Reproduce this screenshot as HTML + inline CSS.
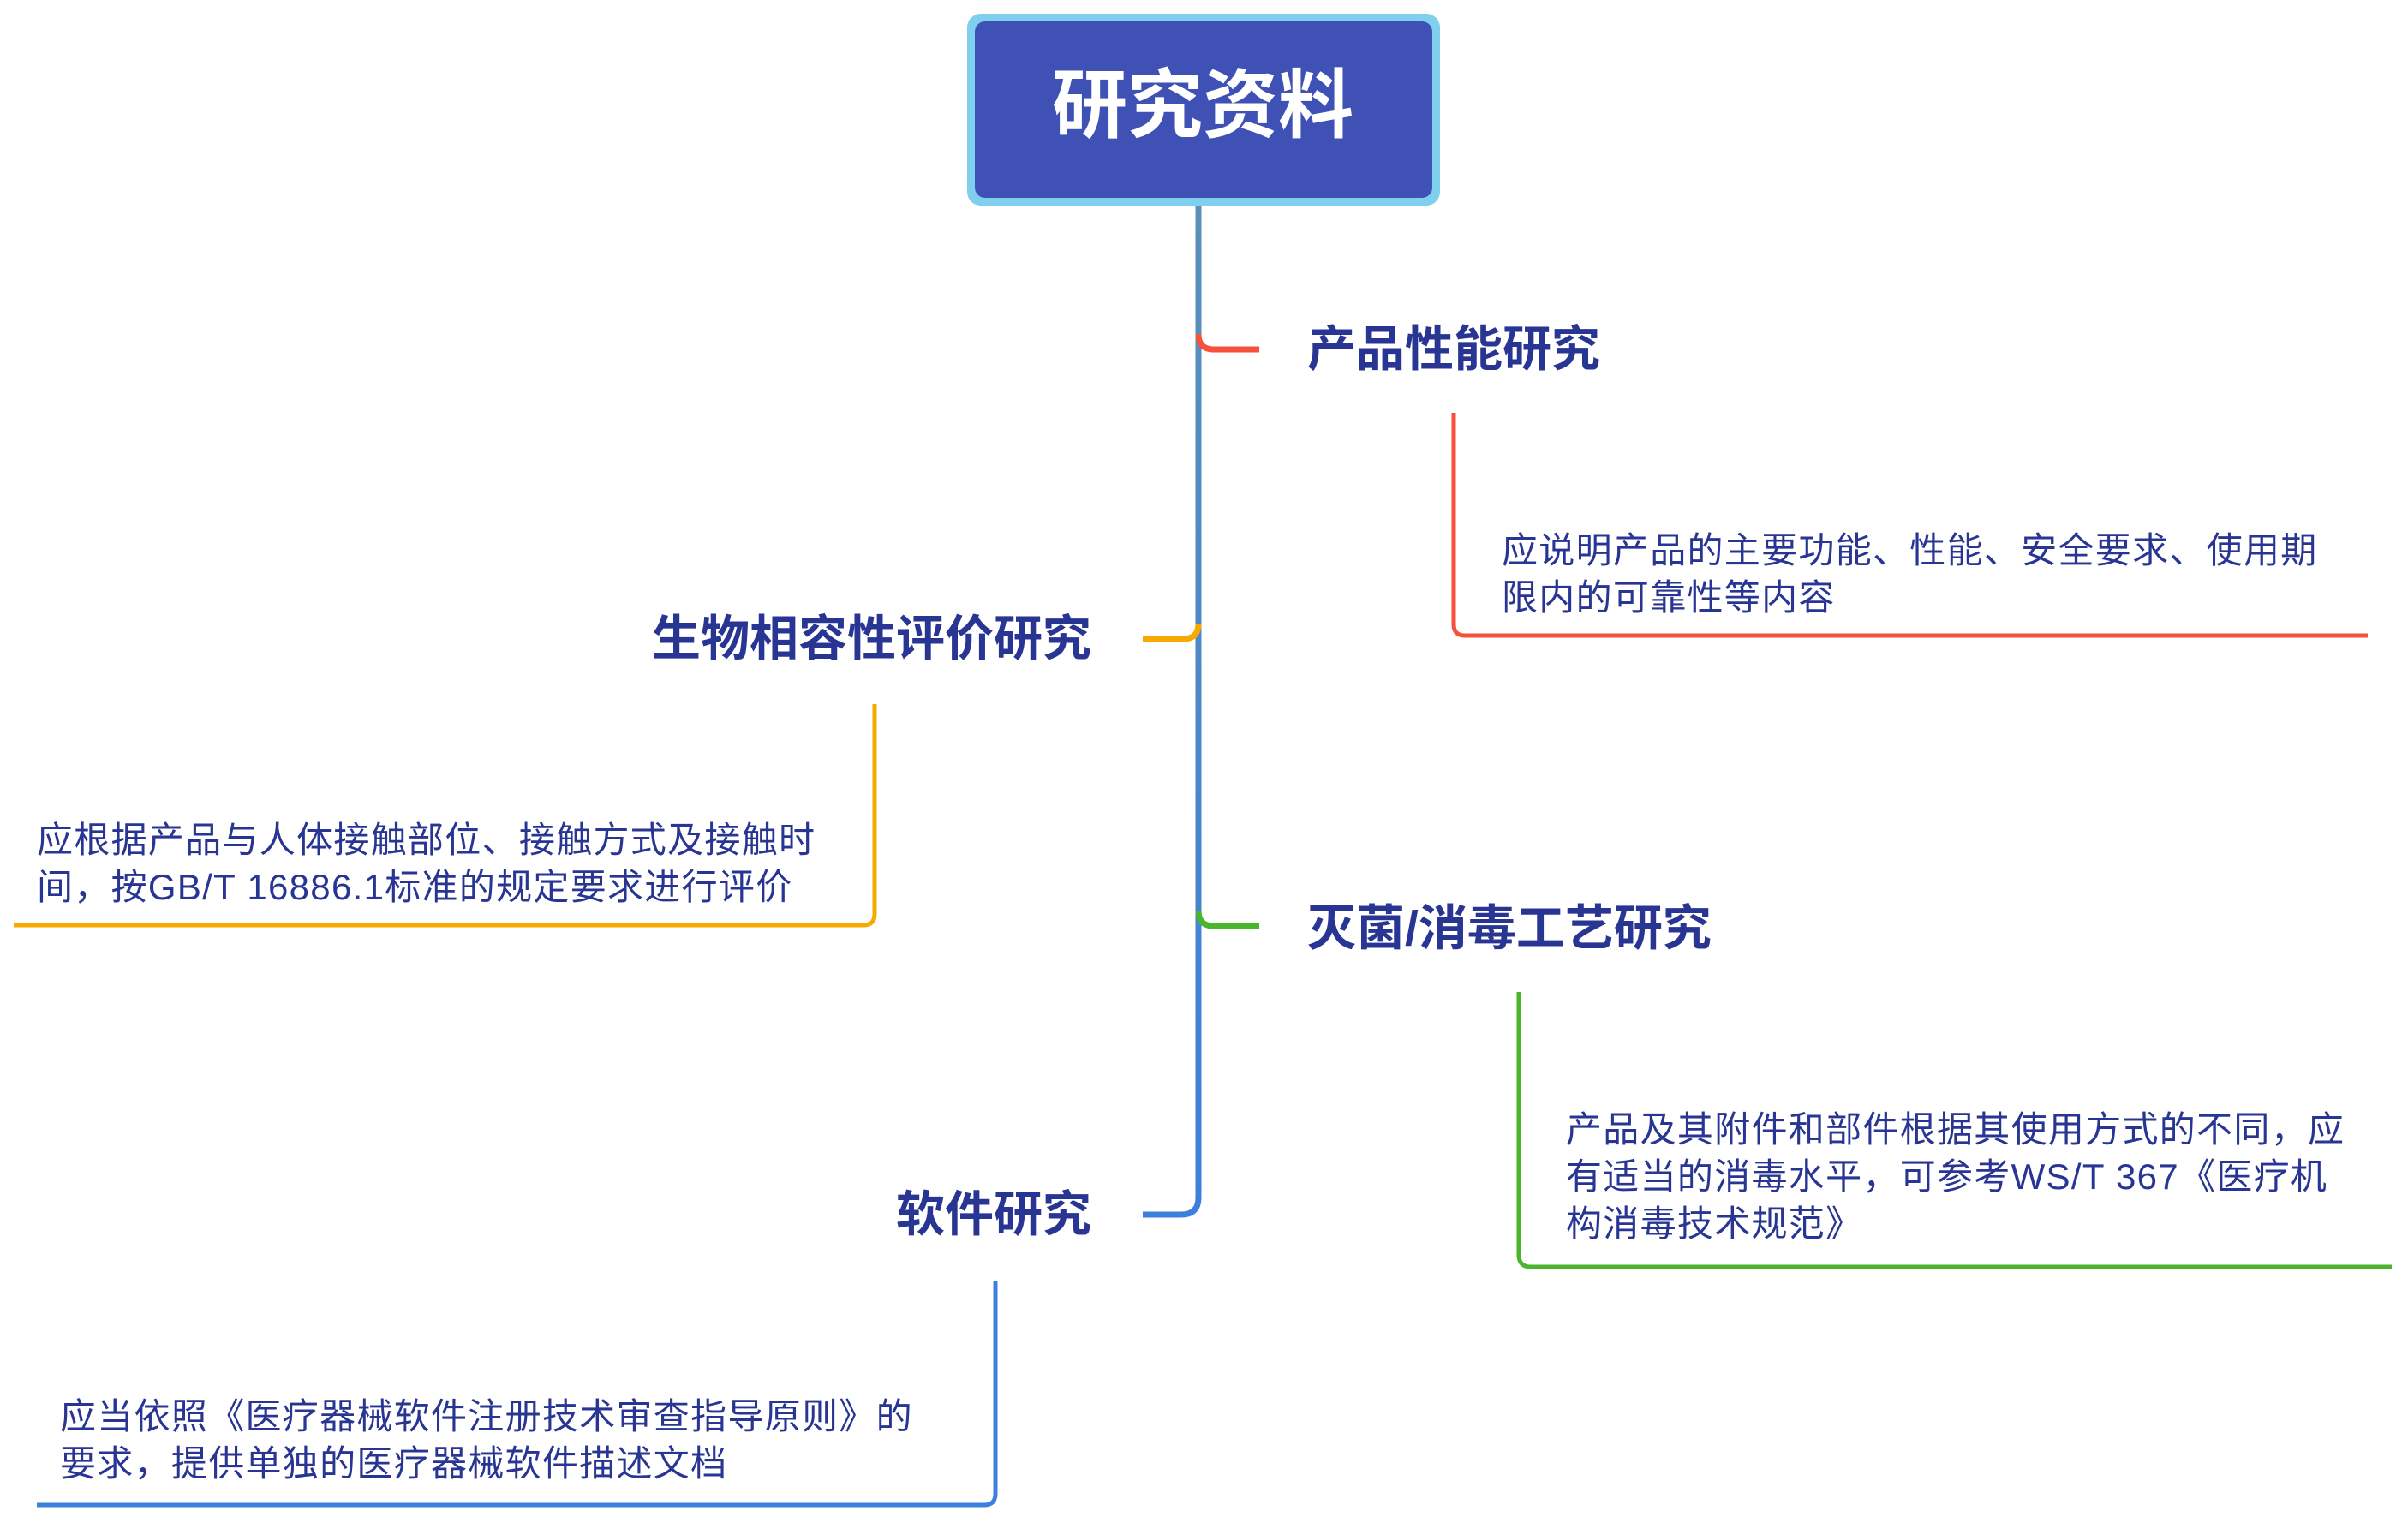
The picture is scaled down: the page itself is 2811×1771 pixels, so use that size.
<!DOCTYPE html>
<html><head><meta charset="utf-8"><style>
html,body{margin:0;padding:0;background:#fff;}
svg{display:block;}
text{font-family:"Liberation Sans","Noto Sans CJK SC",sans-serif;}
.s{letter-spacing:1.3px;}
</style></head><body>
<svg width="2811" height="1771" viewBox="0 0 2811 1771" xmlns="http://www.w3.org/2000/svg">
<defs>
<linearGradient id="trunk" x1="0" y1="0" x2="0" y2="1">
<stop offset="0" stop-color="#5a90b8"/><stop offset="1" stop-color="#3d7fdc"/>
</linearGradient>
</defs>
<g transform="translate(-6,0)">
<path d="M1405 236 L1405 1398 Q1405 1418 1385 1418 L1340 1418" fill="none" stroke="url(#trunk)" stroke-width="7"/>
<rect x="1135" y="16" width="552" height="224" rx="16" fill="#7fcfee"/>
<rect x="1144" y="25" width="534" height="206" rx="12" fill="#3f51b5"/>
<text x="1410" y="130" font-size="88" font-weight="bold" fill="#fff" text-anchor="middle" dominant-baseline="middle">研究资料</text>

<path d="M1405 390 Q1405 408 1423 408 L1476 408" fill="none" stroke="#f5523b" stroke-width="7"/>
<text x="1532" y="412" font-size="57" font-weight="bold" fill="#283593" dominant-baseline="middle">产品性能研究</text>
<path d="M1703 482 L1703 729 Q1703 742 1716 742 L2770 742" fill="none" stroke="#f5523b" stroke-width="5"/>
<text class="s" x="1759" y="646" font-size="42" fill="#283593" dominant-baseline="middle">应说明产品的主要功能、性能、安全要求、使用期</text>
<text class="s" x="1759" y="701" font-size="42" fill="#283593" dominant-baseline="middle">限内的可靠性等内容</text>

<path d="M1405 728 Q1405 746 1387 746 L1340 746" fill="none" stroke="#f7a900" stroke-width="7"/>
<text x="1280" y="750" font-size="57" font-weight="bold" fill="#283593" text-anchor="end" dominant-baseline="middle">生物相容性评价研究</text>
<path d="M1027 822 L1027 1067 Q1027 1080 1014 1080 L22 1080" fill="none" stroke="#f7a900" stroke-width="5"/>
<text class="s" x="49" y="984" font-size="42" fill="#283593" dominant-baseline="middle">应根据产品与人体接触部位、接触方式及接触时</text>
<text class="s" x="49" y="1039" font-size="42" fill="#283593" dominant-baseline="middle">间，按GB/T 16886.1标准的规定要求进行评价</text>

<path d="M1405 1063 Q1405 1081 1423 1081 L1476 1081" fill="none" stroke="#4cb52e" stroke-width="7"/>
<text x="1532" y="1088" font-size="57" font-weight="bold" fill="#283593" dominant-baseline="middle">灭菌/消毒工艺研究</text>
<path d="M1779 1158 L1779 1465 Q1779 1479 1793 1479 L2798 1479" fill="none" stroke="#4cb52e" stroke-width="5"/>
<text class="s" x="1834" y="1322" font-size="42" fill="#283593" dominant-baseline="middle">产品及其附件和部件根据其使用方式的不同，应</text>
<text class="s" x="1834" y="1377" font-size="42" fill="#283593" dominant-baseline="middle">有适当的消毒水平，可参考WS/T 367《医疗机</text>
<text class="s" x="1834" y="1432" font-size="42" fill="#283593" dominant-baseline="middle">构消毒技术规范》</text>

<text x="1280" y="1422" font-size="57" font-weight="bold" fill="#283593" text-anchor="end" dominant-baseline="middle">软件研究</text>
<path d="M1168 1496 L1168 1744 Q1168 1757 1155 1757 L49 1757" fill="none" stroke="#3d7fdc" stroke-width="5"/>
<text class="s" x="76" y="1657" font-size="42" fill="#283593" dominant-baseline="middle">应当依照《医疗器械软件注册技术审查指导原则》的</text>
<text class="s" x="76" y="1712" font-size="42" fill="#283593" dominant-baseline="middle">要求，提供单独的医疗器械软件描述文档</text>
</g>
</svg>
</body></html>
